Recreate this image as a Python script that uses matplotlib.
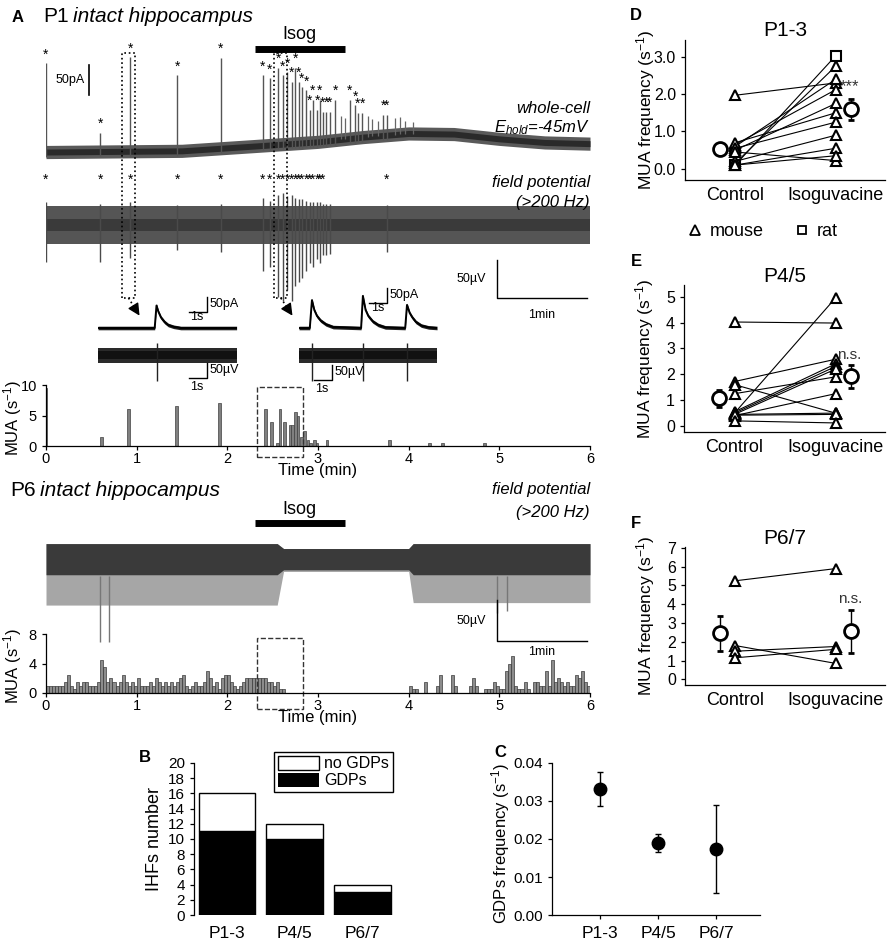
import numpy as np
import matplotlib
matplotlib.use('Agg')
import matplotlib.pyplot as plt
from matplotlib.lines import Line2D
from matplotlib.patches import Patch, FancyArrowPatch, Rectangle
from matplotlib.transforms import blended_transform_factory

plt.rcParams['font.family'] = ['Liberation Sans', 'DejaVu Sans']
plt.rcParams['mathtext.fontset'] = 'custom'
plt.rcParams['mathtext.rm'] = 'Liberation Sans'
plt.rcParams['mathtext.it'] = 'Liberation Sans:italic'

W, H = 892, 946

# ---------------- data ----------------
isog_on, isog_off = 2.3, 3.3          # min
box_t = (2.33, 2.84)                  # dashed box on MUA histograms
dotted_boxes = [(0.84, 0.98), (2.52, 2.66)]

# P1 whole-cell trace (time in min, current in pA)
wc_base_t = [0.0, 1.5, 2.0, 2.5, 3.0, 3.5, 4.0, 4.5, 5.0, 5.5, 6.0]
wc_base_pA = [0, 2, 7, 12, 17, 25, 31, 30, 22, 16, 14]
wc_spike_t = [0.00, 0.60, 0.93, 1.45, 1.93,
              2.39, 2.47, 2.56, 2.61, 2.66, 2.71, 2.75, 2.79, 2.82, 2.87,
              2.91, 2.94, 2.99, 3.02, 3.05, 3.09, 3.13, 3.19, 3.35, 3.41,
              3.44, 3.49, 3.72, 3.76]
wc_spike_top = [148, 32, 158, 128, 157,
                128, 123, 140, 128, 133, 117, 140, 117, 108, 103,
                70, 87, 70, 87, 67, 67, 67, 87, 87, 78,
                65, 65, 62, 62]
wc_minor_t = [3.25, 3.30, 3.55, 3.60, 3.66, 3.85, 3.90, 3.96, 4.05]
wc_minor_top = [60, 56, 60, 55, 52, 56, 58, 52, 50]

# P1 field potential (uV)
fp_spike_t = [0.00, 0.60, 0.93, 1.45, 1.93, 2.39, 2.47, 2.56, 2.61, 2.66, 2.71,
              2.75, 2.79, 2.82, 2.87, 2.91, 2.94, 2.99, 3.02, 3.05, 3.09, 3.13, 3.76]
fp_spike_lo = [-49, -49, -43, -33, -36, -60, -55, -95, -100, -85, -100,
               -80, -75, -70, -60, -50, -55, -45, -50, -40, -40, -38, -35]
fp_spike_hi = [30, 28, 30, 26, 28, 35, 32, 40, 42, 38, 40,
               36, 34, 34, 32, 30, 30, 30, 30, 28, 28, 28, 26]
fp_star_t = [0.00, 0.60, 0.93, 1.45, 1.93, 2.39, 2.47, 2.56, 2.61, 2.66, 2.71,
             2.75, 2.79, 2.82, 2.87, 2.91, 2.94, 2.99, 3.02, 3.05, 3.76]

# insets (time in s)
in1_wc_t = [0, 3.15, 3.25, 3.35, 3.5, 3.7, 3.9, 4.2, 4.6, 7.7]
in1_wc_pA = [0, 0, 75, 55, 35, 20, 10, 4, 0, 0]
in1_fp_spk_t = [3.3]
in2_wc_t = [0, 0.6, 0.72, 0.85, 1.0, 1.2, 1.5, 1.9, 3.45, 3.55, 3.7, 3.85,
            4.1, 4.4, 4.8, 5.9, 6.0, 6.15, 6.3, 6.5, 6.8, 7.2, 7.67]
in2_wc_pA = [0, 0, 93, 60, 40, 25, 12, 3, 0, 107, 60, 40,
             22, 10, 2, 0, 77, 50, 35, 20, 8, 2, 0]
in2_fp_spk_t = [0.72, 3.55, 6.0]

# P1 MUA histogram
mua1_t = [0.00, 0.61, 0.91, 1.44, 1.91, 2.42, 2.49, 2.55, 2.58, 2.63, 2.69,
          2.72, 2.75, 2.78, 2.82, 2.85, 2.89, 2.92, 2.96, 2.99, 3.10, 3.79,
          4.23, 4.37, 4.84]
mua1_rate = [9.5, 1.5, 6.0, 6.5, 7.0, 6.0, 4.0, 0.5, 6.0, 4.0, 3.5,
             3.5, 5.5, 5.0, 1.5, 2.5, 1.0, 0.5, 1.0, 0.5, 1.0, 1.0,
             0.5, 0.5, 0.5]

# P6 field potential envelope (uV)
p6_t = [0.0, 2.55, 2.62, 4.0, 4.05, 6.0]
p6_core_hi = [20, 20, 14, 14, 20, 20]
p6_core_lo = [-18, -18, -12, -12, -18, -18]
p6_env_lo = [-55, -55, -14, -14, -52, -52]
p6_long_t = [0.60, 0.70, 4.97, 5.08]
p6_long_lo = [-100, -100, -65, -62]

# P6 MUA histogram, 2-s bins (30 per min)
mua6_rate = [
    1, 1, 1, 1, 1, 1, 1.5, 2.5, 1, 0.5, 1.5, 1, 1.5, 1.5, 1, 1, 1, 1.5, 4.5, 3.5,
    1.5, 2, 1.5, 1, 1.5, 2.5, 1.5, 1, 1.5, 1,
    2, 1, 1, 1, 1.5, 1, 2, 1.5, 1, 1.5, 1, 1.5, 1, 1.5, 2, 2.5, 1, 0.5, 1, 1.5,
    1, 1, 1.5, 3, 2, 1, 1.5, 0.5, 2, 2.5,
    2.5, 1.5, 1, 0.5, 1, 1.5, 2, 2, 2, 2, 2, 2, 2, 1.5, 1.5, 1, 1.5, 0.5, 0.5, 0,
    0, 0, 0, 0, 0, 0, 0, 0, 0, 0,
    0, 0, 0, 0, 0, 0, 0, 0, 0, 0, 0, 0, 0, 0, 0, 0, 0, 0, 0, 0,
    0, 0, 0, 0, 0, 0, 0, 0, 0, 0,
    1, 0.5, 0.5, 0, 0, 1.5, 0, 0, 0, 1, 2.5, 0, 0, 0, 2.5, 1, 0, 0, 0, 0,
    1, 2, 1, 0, 0, 0.5, 0.5, 0.5, 1.5, 1,
    0.5, 0.5, 3, 4, 5, 1, 0.5, 0.5, 1.5, 0.5, 0, 1.5, 1.5, 1, 1, 3, 1, 4.5, 1.5, 2,
    1.5, 1, 1.5, 1, 1, 2.5, 2, 3, 1.5, 1]

# B: IHF counts
stages = ['P1-3', 'P4/5', 'P6/7']
ihf_gdp = [11, 10, 3]
ihf_total = [16, 12, 4]

# C: GDP frequency
gdp_freq = [0.0331, 0.0190, 0.0174]
gdp_err = [0.0045, 0.0024, 0.0115]

# D-F: MUA frequency, control vs isoguvacine
conds = ['Control', 'Isoguvacine']
d_ctrl = [1.97, 0.10, 0.15, 0.60, 0.65, 0.50, 0.70, 0.55, 0.20, 0.10, 0.45, 0.10]
d_iso = [2.30, 3.03, 2.75, 2.40, 2.12, 1.75, 1.50, 1.25, 0.90, 0.55, 0.22, 0.35]
d_rat = [1]
d_mean = [0.52, 1.60]
d_sem = [0.04, 0.28]

e_ctrl = [4.02, 0.50, 1.72, 1.25, 1.60, 0.55, 0.50, 0.45, 0.40, 0.45, 0.42, 0.20]
e_iso = [3.98, 4.95, 2.58, 1.90, 0.50, 2.40, 2.30, 2.20, 1.25, 0.50, 0.45, 0.12]
e_mean = [1.07, 1.92]
e_sem = [0.33, 0.45]

f_ctrl = [5.25, 1.80, 1.50, 1.15]
f_iso = [5.90, 0.85, 1.75, 1.60]
f_mean = [2.45, 2.55]
f_sem = [0.95, 1.15]

# ---------------- figure ----------------
fig = plt.figure(figsize=(W / 100, H / 100), dpi=100)


def add_ax(l, t, r, b):
    ax = fig.add_axes([l / W, 1 - b / H, (r - l) / W, (b - t) / H])
    ax.patch.set_alpha(0)
    return ax


def ftext(x, y, s, **kw):
    fig.text(x / W, 1 - y / H, s, **kw)


def style_axes(ax, size=10.5):
    for s in ['top', 'right']:
        ax.spines[s].set_visible(False)
    for s in ['left', 'bottom']:
        ax.spines[s].set_linewidth(0.9)
    ax.tick_params(labelsize=size, length=3, width=0.9)


# ---- Panel A, P1 ----
ftext(18, 17, 'A', fontsize=12, fontweight='bold', ha='center', va='center')
ftext(43, 17, 'P1', fontsize=15, va='center')
ftext(73, 17, 'intact hippocampus', fontsize=15, va='center', style='italic')

ax_wc = add_ax(46, 40, 590, 170)
ax_wc.set_xlim(0, 6)
ax_wc.set_ylim(-30, 187)
ax_wc.axis('off')
base_at = np.interp(wc_spike_t, wc_base_t, wc_base_pA)
ax_wc.vlines(wc_spike_t, base_at - 8, wc_spike_top, color='#555555', lw=1.0)
base_m = np.interp(wc_minor_t, wc_base_t, wc_base_pA)
ax_wc.vlines(wc_minor_t, base_m, wc_minor_top, color='#666666', lw=0.9)
bt = np.array(wc_base_pA)
ax_wc.fill_between(wc_base_t, bt - 11, bt + 11, color='#5a5a5a', lw=0)
ax_wc.fill_between(wc_base_t, bt - 5, bt + 5, color='#2a2a2a', lw=0)
for t, top in zip(wc_spike_t, wc_spike_top):
    ax_wc.text(t, top + 15, '*', ha='center', va='center', fontsize=10, clip_on=False)
ax_wc.plot([isog_on, isog_off], [172, 172], color='k', lw=5,
           solid_capstyle='butt', clip_on=False)
ax_wc.text((isog_on + isog_off) / 2, 196, 'Isog', ha='center', va='center',
           fontsize=13, clip_on=False)
ax_wc.plot([0.47, 0.47], [95, 145], color='k', lw=1.2)
ax_wc.text(0.43, 120, '50pA', ha='right', va='center', fontsize=9)
ax_wc.text(6.0, 72, 'whole-cell', ha='right', va='center', fontsize=12,
           style='italic', clip_on=False)
ax_wc.text(6.0, 40, r'$E_{hold}$=-45mV', ha='right', va='center', fontsize=12,
           style='italic', clip_on=False)

ax_fp = add_ax(46, 172, 590, 310)
ax_fp.set_xlim(0, 6)
ax_fp.set_ylim(-111.8, 69.7)
ax_fp.axis('off')
ax_fp.vlines(fp_spike_t, fp_spike_lo, fp_spike_hi, color='#4a4a4a', lw=1.0)
ax_fp.fill_between([0, 6], [-25, -25], [25, 25], color='#555555', lw=0)
ax_fp.fill_between([0, 6], [-8, -8], [8, 8], color='#3a3a3a', lw=0)
for t in fp_star_t:
    ax_fp.text(t, 59, '*', ha='center', va='center', fontsize=10, clip_on=False)
ax_fp.text(6.0, 56, 'field potential', ha='right', va='center', fontsize=12,
           style='italic', clip_on=False)
ax_fp.text(6.0, 29, '(>200 Hz)', ha='right', va='center', fontsize=12,
           style='italic', clip_on=False)
ax_fp.plot([4.97, 4.97, 5.97], [-46, -96, -96], color='k', lw=1.0)
ax_fp.text(4.85, -71, '50µV', ha='right', va='center', fontsize=9)
ax_fp.text(5.47, -118, '1min', ha='center', va='center', fontsize=9, clip_on=False)

# dotted boxes and arrows to the insets
trans = blended_transform_factory(ax_wc.transData, fig.transFigure)
y_top, y_bot = 1 - 53 / H, 1 - 298 / H
arrow_tips = [(141, 318), (294, 318)]
for (t0, t1), (tx, ty) in zip(dotted_boxes, arrow_tips):
    fig.add_artist(Line2D([t0, t0, t1, t1, t0], [y_bot, y_top, y_top, y_bot, y_bot],
                          transform=trans, ls=':', lw=1.2, color='k'))
    p0 = fig.transFigure.inverted().transform(trans.transform(((t0 + t1) / 2, y_bot)))
    p1 = np.array([tx / W, 1 - ty / H])
    pm = p0 + 0.45 * (p1 - p0)
    fig.add_artist(Line2D([p0[0], pm[0]], [p0[1], pm[1]], transform=fig.transFigure,
                          ls=':', lw=1.2, color='k'))
    fig.add_artist(FancyArrowPatch(pm, p1, transform=fig.transFigure, arrowstyle='-|>',
                                   mutation_scale=18, color='k', lw=1.0))


# insets
def inset_pair(l, r, wc_t, wc_pA, spk_t, sb_wc, sb_fp):
    axw = add_ax(l, 290, r, 340)
    axw.set_xlim(0, (r - l) / 18)
    axw.set_ylim(-40, 126.7)
    axw.axis('off')
    y = np.array(wc_pA)
    axw.fill_between(wc_t, y - 6, y + 6, color='#222222', lw=0)
    axw.plot(wc_t, y, color='k', lw=1.4)
    x0, y0 = sb_wc
    axw.plot([x0 - 1, x0, x0], [y0, y0, y0 + 50], color='k', lw=1.0, clip_on=False)
    axw.text(x0 + 0.12, y0 + 27, '50pA', ha='left', va='center', fontsize=9, clip_on=False)
    axw.text(x0 - 0.55, y0 - 17, '1s', ha='center', va='center', fontsize=9, clip_on=False)

    axf = add_ax(l, 340, r, 395)
    axf.set_xlim(0, (r - l) / 18)
    axf.set_ylim(-133, 50)
    axf.axis('off')
    axf.vlines(spk_t, -85, 40, color='#222222', lw=1.0)
    axf.fill_between([0, (r - l) / 18], [-25, -25], [25, 25], color='#2a2a2a', lw=0)
    axf.fill_between([0, (r - l) / 18], [-12, -12], [12, 12], color='#111111', lw=0)
    x0, y0 = sb_fp
    axf.plot([x0 - 1, x0, x0], [y0, y0, y0 + 50], color='k', lw=1.0, clip_on=False)
    axf.text(x0 + 0.12, y0 + 27, '50µV', ha='left', va='center', fontsize=9, clip_on=False)
    axf.text(x0 - 0.55, y0 - 30, '1s', ha='center', va='center', fontsize=9, clip_on=False)


inset_pair(98, 237, in1_wc_t, in1_wc_pA, in1_fp_spk_t, (6.05, 53), (6.05, -77))
inset_pair(299, 437, in2_wc_t, in2_wc_pA, in2_fp_spk_t, (4.9, 83), (1.83, -83))

# P1 MUA histogram
ax_m1 = add_ax(46, 385, 590, 446)
ax_m1.bar(mua1_t, mua1_rate, width=0.03, color='#808080', edgecolor='#404040', lw=0.5)
ax_m1.set_xlim(0, 6)
ax_m1.set_ylim(0, 10)
ax_m1.set_yticks([0, 5, 10])
ax_m1.set_xticks(range(7))
style_axes(ax_m1)
ax_m1.tick_params(axis='x', pad=1)
ax_m1.set_xlabel('Time (min)', fontsize=12, labelpad=-2)
ax_m1.set_ylabel(r'MUA (s$^{-1}$)', fontsize=12)
ax_m1.yaxis.set_label_coords(-0.04, 0.45)
ax_m1.add_patch(Rectangle((box_t[0], -1.8), box_t[1] - box_t[0], 11.4, fill=False,
                          ls='--', lw=1.0, color='#333333', clip_on=False))

# ---- P6 ----
ftext(10, 490, 'P6', fontsize=15, va='center')
ftext(40, 490, 'intact hippocampus', fontsize=15, va='center', style='italic')

ax_p6 = add_ax(46, 525, 590, 660)
ax_p6.set_xlim(0, 6)
ax_p6.set_ylim(-122, 42.7)
ax_p6.axis('off')
ax_p6.fill_between(p6_t, p6_env_lo, p6_core_hi, color='#a6a6a6', lw=0)
ax_p6.vlines(p6_long_t, -20, p6_long_lo, color='#777777', lw=1.0)
ax_p6.fill_between(p6_t, p6_core_lo, p6_core_hi, color='#3a3a3a', lw=0)
ax_p6.plot([isog_on, isog_off], [45, 45], color='k', lw=5, solid_capstyle='butt',
           clip_on=False)
ax_p6.text((isog_on + isog_off) / 2, 62, 'Isog', ha='center', va='center',
           fontsize=13, clip_on=False)
ax_p6.text(6.0, 86, 'field potential', ha='right', va='center', fontsize=12,
           style='italic', clip_on=False)
ax_p6.text(6.0, 58, '(>200 Hz)', ha='right', va='center', fontsize=12,
           style='italic', clip_on=False)
ax_p6.plot([4.97, 4.97, 5.97], [-49, -99, -99], color='k', lw=1.0)
ax_p6.text(4.85, -74, '50µV', ha='right', va='center', fontsize=9)
ax_p6.text(5.47, -112, '1min', ha='center', va='center', fontsize=9, clip_on=False)

ax_m6 = add_ax(46, 634, 590, 693)
ax_m6.bar(np.arange(len(mua6_rate)) / 30, mua6_rate, width=1 / 30, align='edge',
          color='#8c8c8c', edgecolor='#3a3a3a', lw=0.5)
ax_m6.set_xlim(0, 6)
ax_m6.set_ylim(0, 8)
ax_m6.set_yticks([0, 4, 8])
ax_m6.set_xticks(range(7))
style_axes(ax_m6)
ax_m6.tick_params(axis='x', pad=1)
ax_m6.set_xlabel('Time (min)', fontsize=12, labelpad=-2)
ax_m6.set_ylabel(r'MUA (s$^{-1}$)', fontsize=12)
ax_m6.yaxis.set_label_coords(-0.04, 0.45)
ax_m6.add_patch(Rectangle((box_t[0], -2.2), box_t[1] - box_t[0], 9.6, fill=False,
                          ls='--', lw=1.0, color='#333333', clip_on=False))

# ---- Panel B ----
ax_b = add_ax(194, 763, 400, 915)
xb = np.arange(len(stages))
no_gdp = [t - g for t, g in zip(ihf_total, ihf_gdp)]
ax_b.bar(xb, ihf_gdp, width=0.84, color='black', edgecolor='black', lw=1)
ax_b.bar(xb, no_gdp, bottom=ihf_gdp, width=0.84, color='white', edgecolor='black', lw=1)
ax_b.set_xlim(-0.49, 2.56)
ax_b.set_ylim(0, 20)
ax_b.set_yticks(range(0, 21, 2))
ax_b.set_xticks(xb)
ax_b.set_xticklabels(stages)
style_axes(ax_b, 11)
ax_b.spines['bottom'].set_visible(False)
ax_b.tick_params(axis='x', length=0, labelsize=12.5, pad=8)
ax_b.set_ylabel('IHFs number', fontsize=13)
ax_b.yaxis.set_label_coords(-0.15, 0.5)
ax_b.legend([Patch(facecolor='white', edgecolor='black'), Patch(facecolor='black')],
            ['no GDPs', 'GDPs'], loc='upper right', bbox_to_anchor=(0.966, 1.075),
            borderaxespad=0, fontsize=11.5, fancybox=False, edgecolor='black',
            framealpha=1, handlelength=2.6, handleheight=1.0, labelspacing=0.1,
            handletextpad=0.3, borderpad=0.25)
ftext(145, 758, 'B', fontsize=12, fontweight='bold', ha='center', va='center')

# ---- Panel C ----
ax_c = add_ax(552, 763, 760, 915)
xc = np.arange(len(stages))
ax_c.errorbar(xc, gdp_freq, yerr=gdp_err, fmt='o', color='black', ms=9,
              elinewidth=1, capsize=2, capthick=1)
ax_c.set_xlim(-0.83, 2.76)
ax_c.set_ylim(0, 0.04)
ax_c.set_yticks([0, 0.01, 0.02, 0.03, 0.04])
ax_c.set_yticklabels(['0.00', '0.01', '0.02', '0.03', '0.04'])
ax_c.set_xticks(xc)
ax_c.set_xticklabels(stages)
style_axes(ax_c, 11)
ax_c.tick_params(axis='x', labelsize=12.5, pad=5)
ax_c.set_ylabel(r'GDPs frequency (s$^{-1}$)', fontsize=12)
ax_c.yaxis.set_label_coords(-0.19, 0.47)
ftext(500, 752, 'C', fontsize=12, fontweight='bold', ha='center', va='center')


# ---- Panels D-F ----
def pair_panel(box, ylim, yticks, yfmt, ctrl, iso, mean, sem, title, letter,
               note, note_y, rat=()):
    ax = add_ax(*box)
    for c, s in zip(ctrl, iso):
        ax.plot([0, 1], [c, s], color='black', lw=0.8, zorder=2)
    for i, (c, s) in enumerate(zip(ctrl, iso)):
        m = 's' if i in rat else '^'
        ax.plot([0, 1], [c, s], ls='none', marker=m, ms=7.5, mfc='white',
                mec='black', mew=1.5, zorder=3 if m == '^' else 2.5)
    ax.errorbar([-0.15, 1.15], mean, yerr=sem, fmt='o', ms=10, mfc='white',
                mec='black', mew=2, ecolor='black', elinewidth=1, capsize=2, zorder=4)
    ax.set_xlim(-0.5, 1.49)
    ax.set_ylim(*ylim)
    ax.set_yticks(yticks)
    ax.set_yticklabels([yfmt.format(v) for v in yticks])
    ax.set_xticks([0, 1])
    ax.set_xticklabels(conds)
    style_axes(ax, 11.5)
    ax.tick_params(axis='x', length=0, labelsize=13, pad=5)
    ax.set_ylabel(r'MUA frequency (s$^{-1}$)', fontsize=12.5)
    ax.yaxis.set_label_coords(-0.14, 0.5)
    h = box[3] - box[1]
    ax.text(0.5, 1 + 9 / h, title, transform=ax.transAxes, ha='center',
            va='center', fontsize=15)
    ftext(636, box[1] - 24, letter, fontsize=12, fontweight='bold', ha='center',
          va='center')
    ax.text(1.14, note_y, note, ha='center', va='center',
            fontsize=12 if note == '***' else 11, color='#333333')
    return ax


ax_d = pair_panel((685, 40, 885, 180), (-0.3, 3.45), [0, 1, 2, 3], '{:.1f}',
                  d_ctrl, d_iso, d_mean, d_sem, 'P1-3', 'D', '***', 2.2, rat=d_rat)
ax_d.legend([Line2D([], [], ls='none', marker='^', ms=6.5, mfc='white', mec='k', mew=1.3),
             Line2D([], [], ls='none', marker='s', ms=6, mfc='white', mec='k', mew=1.3)],
            ['mouse', 'rat'], loc='center', bbox_to_anchor=(0.385, -0.37), ncol=2,
            frameon=False, fontsize=13, handlelength=1.0, handletextpad=0.3,
            columnspacing=1.65)
pair_panel((684, 285, 885, 432), (-0.23, 5.45), [0, 1, 2, 3, 4, 5], '{:d}',
           e_ctrl, e_iso, e_mean, e_sem, 'P4/5', 'E', 'n.s.', 2.75)
pair_panel((685, 547, 885, 685), (-0.3, 7.05), [0, 1, 2, 3, 4, 5, 6, 7], '{:d}',
           f_ctrl, f_iso, f_mean, f_sem, 'P6/7', 'F', 'n.s.', 4.3)

fig.savefig('out.png', dpi=100)
